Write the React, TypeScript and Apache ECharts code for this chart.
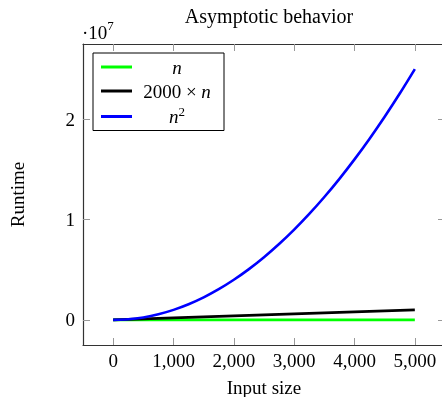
import React, { useEffect, useRef } from "react";
import * as echarts from "echarts";

const inputSizes = [0, 250, 500, 750, 1000, 1250, 1500, 1750, 2000, 2250, 2500, 2750, 3000, 3250, 3500, 3750, 4000, 4250, 4500, 4750, 5000];
const linearValues = [0, 250, 500, 750, 1000, 1250, 1500, 1750, 2000, 2250, 2500, 2750, 3000, 3250, 3500, 3750, 4000, 4250, 4500, 4750, 5000];
const scaledLinearValues = [0, 50000, 100000, 150000, 200000, 250000, 300000, 350000, 400000, 450000, 500000, 550000, 600000, 650000, 700000, 750000, 800000, 850000, 900000, 950000, 1000000];
const quadraticValues = [0, 62500, 250000, 562500, 1000000, 1562500, 2250000, 3062500, 4000000, 5062500, 6250000, 7562500, 9000000, 10562500, 12250000, 14062500, 16000000, 18062500, 20250000, 22562500, 25000000];

const seriesNames = ["n", "2000 × n", "n²"];
const seriesColors = ["#00ff00", "#000000", "#0000ff"];
const xTicks = [0, 1000, 2000, 3000, 4000, 5000];
const yTicks = [0, 10000000, 20000000];

const FONT = "'Liberation Serif', 'DejaVu Serif', serif";

export default function App() {
  const ref = useRef<HTMLDivElement>(null);
  useEffect(() => {
    if (!ref.current) return;
    const chart = echarts.init(ref.current, null, { renderer: "svg" });
    const pair = (vals: number[]) => inputSizes.map((x, i) => [x, vals[i]]);
    const axisLine = { show: true, onZero: false, lineStyle: { color: "#333", width: 1.2 } };
    const tickStyle = { color: "#999", width: 1 };
    const xBase = {
      type: "value" as const,
      min: -500,
      max: 5500,
      splitLine: { show: false },
      axisLine,
    };
    const yBase = {
      type: "value" as const,
      min: -2500000,
      max: 27500000,
      splitLine: { show: false },
      axisLine,
    };
    const legendFormatter = (name: string) => {
      if (name === "n") return "{i|n}";
      if (name === "n²") return "{i|n}{s|2}";
      return "{t|2000 × }{i|n}";
    };
    chart.setOption({
      animation: false,
      textStyle: { fontFamily: FONT },
      title: {
        text: "Asymptotic behavior",
        left: 264,
        textAlign: "center",
        top: 1,
        textStyle: { fontFamily: FONT, fontSize: 20, fontWeight: "normal", color: "#000" },
      },
      grid: { left: 83, top: 44, width: 362, height: 301, outerBoundsMode: "none", containLabel: false },
      legend: {
        orient: "vertical",
        left: 93,
        top: 53,
        padding: [4, 7, 4, 8],
        itemGap: 4,
        itemWidth: 31,
        itemHeight: 3,
        backgroundColor: "#fff",
        borderColor: "#000",
        borderWidth: 1,
        borderRadius: 0,
        icon: "rect",
        data: seriesNames,
        formatter: legendFormatter,
        textStyle: {
          fontFamily: FONT,
          fontSize: 19,
          color: "#000",
          width: 80,
          lineHeight: 20,
          rich: {
            i: { fontFamily: FONT, fontStyle: "italic", fontSize: 19, align: "center", color: "#000" },
            t: { fontFamily: FONT, fontSize: 19, align: "center", color: "#000" },
            s: { fontFamily: FONT, fontSize: 13, align: "center", color: "#000", padding: [0, 0, 10, 0] },
          },
        },
      },
      graphic: [
        {
          type: "text",
          left: 82,
          top: 19,
          style: {
            text: "{a|·10}{s|7}",
            rich: {
              a: { fontFamily: FONT, fontSize: 19, fill: "#000", verticalAlign: "bottom" },
              s: { fontFamily: FONT, fontSize: 13, fill: "#000", padding: [0, 0, 10, 0], verticalAlign: "bottom" },
            },
          },
        },
      ],
      xAxis: [
        {
          ...xBase,
          position: "bottom",
          name: "Input size",
          nameLocation: "middle",
          nameGap: 33,
          nameTextStyle: { fontFamily: FONT, fontSize: 19, color: "#000" },
          axisTick: { show: true, inside: true, length: 7, lineStyle: tickStyle, customValues: xTicks },
          axisLabel: {
            show: true,
            margin: 6,
            fontFamily: FONT,
            fontSize: 19,
            color: "#000",
            customValues: xTicks,
            formatter: (v: number) => v.toLocaleString("en-US"),
          },
        },
        {
          ...xBase,
          position: "top",
          axisTick: { show: true, inside: true, length: 7, lineStyle: tickStyle, customValues: xTicks },
          axisLabel: { show: false },
        },
      ],
      yAxis: [
        {
          ...yBase,
          position: "left",
          name: "Runtime",
          nameLocation: "middle",
          nameGap: 56,
          nameTextStyle: { fontFamily: FONT, fontSize: 19, color: "#000" },
          axisTick: { show: true, inside: true, length: 7, lineStyle: tickStyle, customValues: yTicks },
          axisLabel: {
            show: true,
            margin: 8,
            fontFamily: FONT,
            fontSize: 19,
            color: "#000",
            customValues: yTicks,
            formatter: (v: number) => String(Math.round(v / 10000000)),
          },
        },
        {
          ...yBase,
          position: "right",
          axisTick: { show: true, inside: true, length: 7, lineStyle: tickStyle, customValues: yTicks },
          axisLabel: { show: false },
        },
      ],
      series: [
        { name: seriesNames[0], data: pair(linearValues) },
        { name: seriesNames[1], data: pair(scaledLinearValues) },
        { name: seriesNames[2], data: pair(quadraticValues) },
      ].map((s, i) => ({
        ...s,
        type: "line",
        xAxisIndex: 0,
        yAxisIndex: 0,
        showSymbol: false,
        symbol: "none",
        smooth: i === 2 ? 0.3 : false,
        color: seriesColors[i],
        lineStyle: { color: seriesColors[i], width: 2.6 },
      })),
    });
    return () => chart.dispose();
  }, []);
  return <div ref={ref} style={{ position: "fixed", left: 0, top: 0, width: 446, height: 397 }} />;
}
